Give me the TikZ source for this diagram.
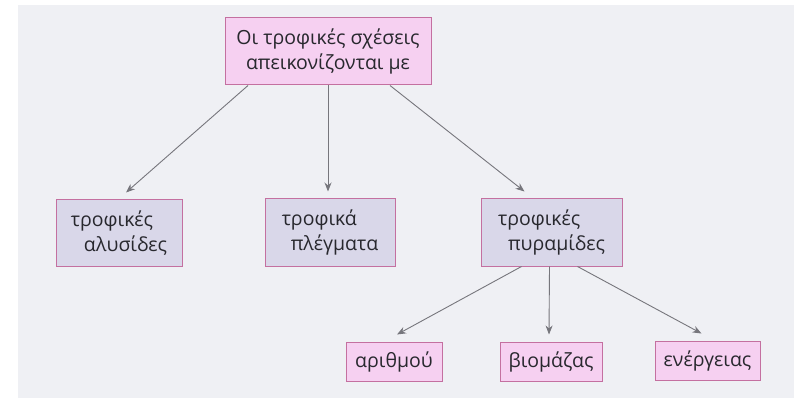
\documentclass[tikz,border=0pt]{standalone}
\usepackage{fontspec}
\setmainfont{Open Sans}
\usetikzlibrary{arrows.meta}
\definecolor{pagegrey}{RGB}{239,240,244}
\definecolor{boxpink}{RGB}{246,208,241}
\definecolor{boxlilac}{RGB}{217,215,233}
\definecolor{edgepink}{RGB}{196,112,160}
\definecolor{textgrey}{RGB}{40,40,46}
\definecolor{arrowgrey}{RGB}{118,118,124}

\begin{document}
\begin{tikzpicture}[x=1pt, y=-1pt,
  concept/.style={draw=edgepink, line width=1pt, text=textgrey,
    font=\fontsize{19.5}{25}\selectfont, inner sep=0pt},
  pinkbox/.style={concept, fill=boxpink, align=center},
  lilacbox/.style={concept, fill=boxlilac, align=left},
  link/.style={draw=arrowgrey, line width=0.9pt, -{Stealth[length=9pt, width=7pt]}}]
  \useasboundingbox (0,0) rectangle (794,403);
  \fill[white] (0,0) rectangle (794,403);
  \fill[pagegrey] (18,5) rectangle (794,398);
  % top of the map
  \node[pinkbox, minimum width=206, minimum height=67] (relations) at (328,51.5)
    {Οι τροφικές σχέσεις\\απεικονίζονται με};
  % middle row
  \node[lilacbox, minimum width=126, minimum height=66] (chains) at (119,233)
    {τροφικές\\\hspace*{13pt}αλυσίδες};
  \node[lilacbox, minimum width=130, minimum height=67] (webs) at (330,232.5)
    {τροφικά\\\hspace*{9pt}πλέγματα};
  \node[lilacbox, minimum width=141, minimum height=67] (pyramids) at (551.5,232.5)
    {τροφικές\\\hspace*{10pt}πυραμίδες};
  % bottom row
  \node[pinkbox, minimum width=96, minimum height=39] (number) at (394,361.5) {αριθμού};
  \node[pinkbox, minimum width=102, minimum height=39] (biomass) at (551,361.5) {βιομάζας};
  \node[pinkbox, minimum width=105, minimum height=39] (energy) at (707.5,360.5) {ενέργειας};
  % connectors
  \draw[link] ([xshift=-80pt]relations.south) -- ([xshift=7pt, yshift=7pt]chains.north);
  \draw[link] (relations.south) -- ([xshift=-2pt, yshift=7pt]webs.north);
  \draw[link] ([xshift=62pt]relations.south) -- ([xshift=-27pt, yshift=7pt]pyramids.north);
  \foreach \from/\to/\target in {-30/3/number, -2/-2/biomass, 26/-6/energy}
    \draw[link] ([xshift=\from pt]pyramids.south) -- ([xshift=\to pt, yshift=7pt]\target.north);
\end{tikzpicture}
\end{document}
